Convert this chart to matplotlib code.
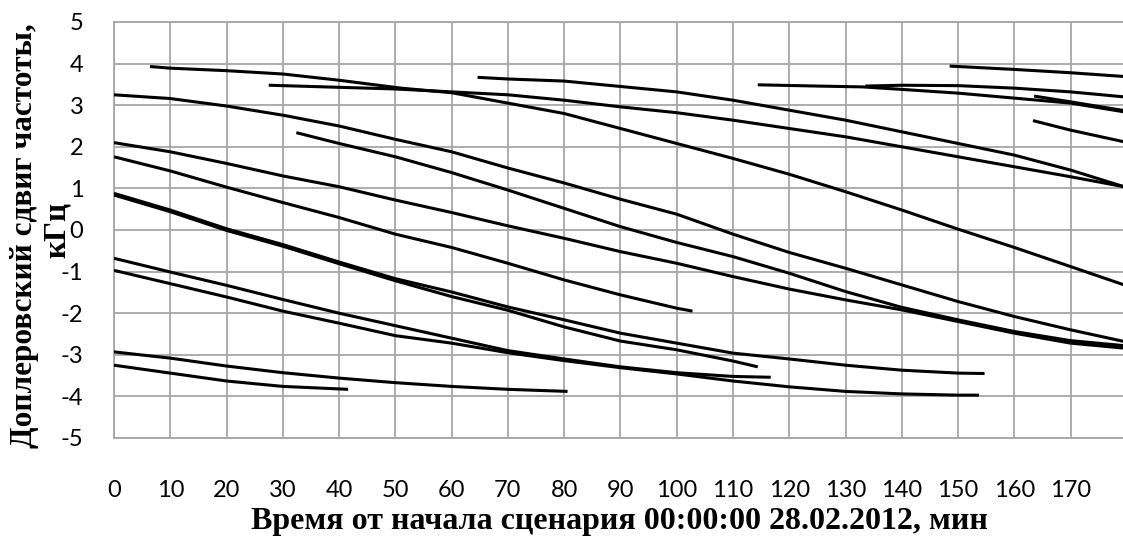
import matplotlib
matplotlib.use("Agg")
import matplotlib.pyplot as plt

plt.rcParams["axes.unicode_minus"] = False

# Doppler shift tracks: time (min) and frequency shift (kHz)
t_a = [6.4, 10, 20, 30, 40, 51, 60, 70, 80, 90, 100, 110, 120, 130, 140, 150, 160, 170, 179.5]
f_a = [3.93, 3.89, 3.83, 3.75, 3.6, 3.41, 3.3, 3.05, 2.8, 2.44, 2.08, 1.72, 1.34, 0.92, 0.48, 0.02, -0.42, -0.88, -1.32]

t_b = [27.5, 40, 50, 60, 70, 80, 90, 100, 110, 120, 130, 140, 150, 160, 170, 179.5]
f_b = [3.48, 3.43, 3.39, 3.32, 3.25, 3.12, 2.96, 2.82, 2.64, 2.44, 2.24, 2.0, 1.76, 1.52, 1.28, 1.04]

t_c = [0, 10, 20, 30, 40, 50, 60, 70, 80, 90, 100, 110, 120, 130, 140, 150, 160, 170, 179.5]
f_c = [3.25, 3.16, 2.98, 2.76, 2.5, 2.18, 1.88, 1.49, 1.13, 0.74, 0.38, -0.1, -0.54, -0.92, -1.32, -1.72, -2.08, -2.4, -2.68]

t_d = [32.4, 40, 50, 60, 70, 80, 90, 100, 110, 120, 130, 140, 150, 160, 170, 179.5]
f_d = [2.34, 2.08, 1.76, 1.38, 0.96, 0.52, 0.08, -0.3, -0.64, -1.04, -1.48, -1.86, -2.16, -2.44, -2.66, -2.78]

t_e = [0, 10, 20, 30, 40, 50, 60, 70, 80, 90, 100, 110, 120, 130, 140, 150, 160, 170, 179.5]
f_e = [2.1, 1.88, 1.6, 1.3, 1.04, 0.72, 0.42, 0.1, -0.2, -0.52, -0.8, -1.12, -1.42, -1.68, -1.92, -2.2, -2.48, -2.72, -2.84]

t_f = [0, 10, 20, 30, 40, 50, 60, 70, 80, 90, 100, 102.8]
f_f = [1.76, 1.42, 1.03, 0.66, 0.3, -0.1, -0.42, -0.8, -1.2, -1.56, -1.88, -1.95]

t_g1 = [0, 10, 20, 30, 40, 50, 60, 70, 80, 90, 100, 110, 120, 130, 140, 150, 154.7]
f_g1 = [0.88, 0.48, 0.03, -0.35, -0.77, -1.17, -1.49, -1.85, -2.16, -2.48, -2.72, -2.96, -3.1, -3.25, -3.37, -3.44, -3.45]

t_g2 = [0, 10, 20, 30, 40, 50, 60, 70, 80, 90, 100, 110, 114.4]
f_g2 = [0.84, 0.44, -0.01, -0.39, -0.81, -1.22, -1.6, -1.93, -2.33, -2.67, -2.88, -3.15, -3.29]

t_h = [0, 10, 20, 30, 40, 50, 60, 70, 80, 90, 100, 110, 116.7]
f_h = [-0.68, -1.01, -1.33, -1.67, -2.0, -2.3, -2.6, -2.9, -3.1, -3.29, -3.43, -3.52, -3.54]

t_i = [0, 10, 20, 30, 40, 50, 60, 70, 80, 90, 100, 110, 120, 130, 140, 150, 153.7]
f_i = [-0.97, -1.29, -1.61, -1.95, -2.24, -2.54, -2.72, -2.95, -3.14, -3.31, -3.46, -3.63, -3.77, -3.88, -3.94, -3.97, -3.97]

t_j = [0, 10, 20, 30, 40, 50, 60, 70, 80.6]
f_j = [-2.93, -3.08, -3.27, -3.43, -3.56, -3.67, -3.76, -3.83, -3.88]

t_k = [0, 10, 20, 30, 41.6]
f_k = [-3.25, -3.44, -3.63, -3.76, -3.83]

t_l = [64.6, 70, 80, 90, 100, 110, 120, 130, 140, 150, 160, 170, 179.5]
f_l = [3.67, 3.63, 3.58, 3.45, 3.32, 3.12, 2.88, 2.64, 2.36, 2.08, 1.8, 1.44, 1.04]

t_m = [114.4, 125, 133, 140, 150, 160, 170, 179.5]
f_m = [3.49, 3.46, 3.44, 3.38, 3.29, 3.17, 3.05, 2.84]

t_n = [133.5, 140, 150, 160, 170, 179.5]
f_n = [3.46, 3.48, 3.47, 3.41, 3.32, 3.2]

t_p = [148.5, 160, 170, 179.5]
f_p = [3.94, 3.86, 3.78, 3.69]

t_q = [163.3, 170, 179.5]
f_q = [2.63, 2.4, 2.12]

t_r = [163.5, 170, 179.5]
f_r = [3.22, 3.08, 2.87]

x_ticks = list(range(0, 171, 10))
y_ticks = list(range(-5, 6))

tracks = [(t_a, f_a), (t_b, f_b), (t_c, f_c), (t_d, f_d), (t_e, f_e),
          (t_f, f_f), (t_g1, f_g1), (t_g2, f_g2), (t_h, f_h), (t_i, f_i),
          (t_j, f_j), (t_k, f_k), (t_l, f_l), (t_m, f_m), (t_n, f_n),
          (t_p, f_p), (t_q, f_q), (t_r, f_r)]

W, H = 1123, 545
fig = plt.figure(figsize=(W / 100, H / 100), dpi=100)
ax = fig.add_axes([114 / W, 1 - 438 / H, 1 - 114 / W, 416 / H])

grid_col = "#a6a6a6"
for t, f in tracks:
    ax.plot(t, f, color="black", lw=2.2, solid_capstyle="butt", zorder=3)

ax.set_xlim(0, 179.3)
ax.set_ylim(-5, 5)
ax.set_xticks(x_ticks)
ax.set_yticks(y_ticks)
ax.grid(True, color=grid_col, lw=1.3)
ax.set_axisbelow(True)
for side in ("left", "top", "bottom"):
    ax.spines[side].set_color(grid_col)
    ax.spines[side].set_linewidth(1.3)
ax.spines["right"].set_visible(False)

ax.tick_params(axis="both", length=0, labelsize=17, labelcolor="black")
ax.tick_params(axis="y", pad=22)
ax.tick_params(axis="x", pad=30)
for lab in ax.get_xticklabels() + ax.get_yticklabels():
    lab.set_family("Lato")

serif = dict(family="Liberation Serif", weight="bold", size=22.5,
             rotation=90, ha="center", va="center")
fig.text(25 / W, 1 - 236 / H, "Доплеровский сдвиг частоты,", **serif)
fig.text(57 / W, 1 - 230 / H, "кГц", **serif)

fig.text(619 / W, 1 - 522 / H, "Время от начала сценария 00:00:00 28.02.2012, мин",
         family="Liberation Serif", weight="bold", size=23, ha="center", va="center")

fig.savefig("out.png", dpi=100)
